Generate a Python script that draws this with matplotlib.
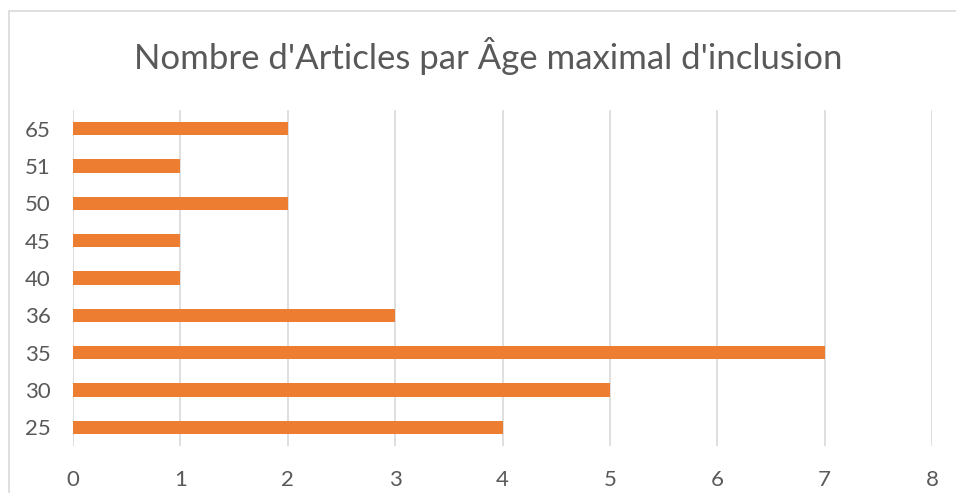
import matplotlib
matplotlib.use("Agg")
import matplotlib.pyplot as plt
from matplotlib.patches import Rectangle

categories = ["25", "30", "35", "36", "40", "45", "50", "51", "65"]
values = [4, 5, 7, 3, 1, 1, 2, 1, 2]
title = "Nombre d'Articles par Âge maximal d'inclusion"

W, H = 956, 493
plt.rcParams['font.family'] = ['Lato', 'DejaVu Sans']
fig = plt.figure(figsize=(W / 100, H / 100), dpi=100)

# chart border
fig.patches.append(Rectangle((9 / W, 0 - 0.01), 1.1, 1 - 11 / H + 0.01,
                             transform=fig.transFigure, fill=False,
                             edgecolor='#d9d9d9', linewidth=1.2))

left, right = 73 / W, 932 / W
top, bottom = 1 - 110 / H, 1 - 446 / H
ax = fig.add_axes([left, bottom, right - left, top - bottom])

ax.barh(range(len(categories)), values, height=0.35, color='#ED7D31', zorder=3)
ax.set_yticks(range(len(categories)))
ax.set_yticklabels(categories)
ax.set_xlim(0, 8)
ax.set_ylim(-0.5, len(categories) - 0.5)
ax.set_xticks(range(0, 9))
ax.grid(axis='x', color='#d9d9d9', linewidth=1.2, zorder=0)
for s in ax.spines.values():
    s.set_visible(False)
ax.tick_params(length=0, labelsize=16, colors='#595959')
ax.tick_params(axis='x', pad=17)
ax.tick_params(axis='y', pad=16)

fig.text(488.5 / W, 1 - 56 / H, title, ha='center', va='center',
         fontsize=25, color='#595959')

fig.savefig("out.png", dpi=100)
